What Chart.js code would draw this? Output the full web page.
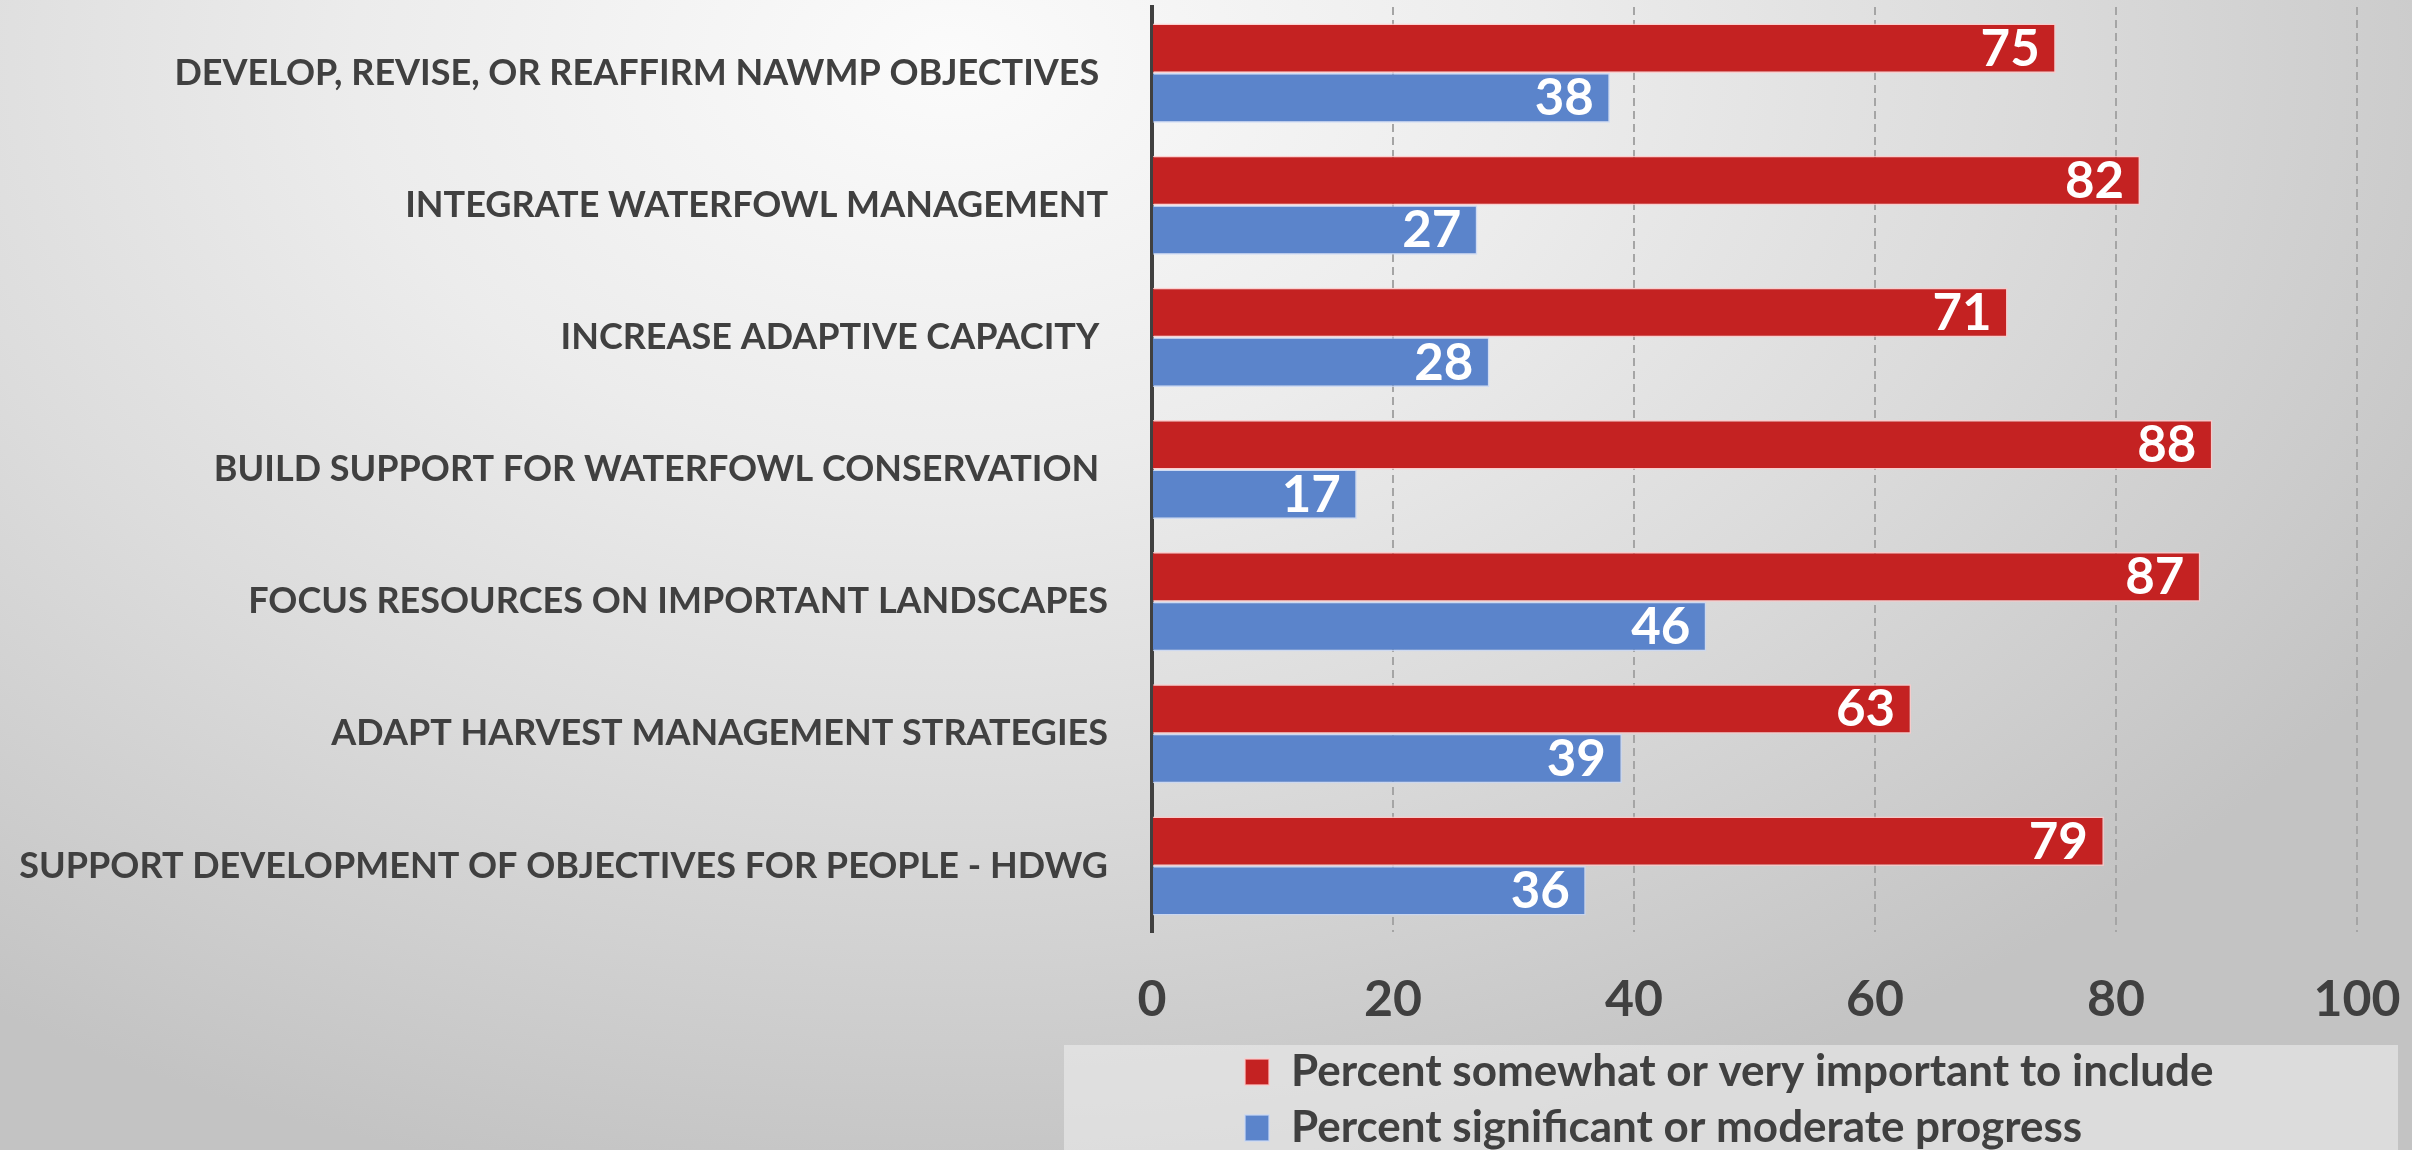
<!DOCTYPE html>
<html>
<head>
<meta charset="utf-8">
<script src="https://cdn.jsdelivr.net/npm/chart.js@4.4.1/dist/chart.umd.min.js"></script>
<style>
    html, body {
        margin: 0;
        padding: 0;
    }
    body {
        width: 2412px;
        height: 1150px;
        overflow: hidden;
        background: radial-gradient(ellipse 1700px 1150px at 950px 60px, #fbfbfb 0%, #ececec 35%, #dcdcdc 62%, #cdcdcd 85%, #c3c3c3 100%);
    }
    #chart-wrap {
        position: relative;
        width: 2412px;
        height: 1150px;
    }
</style>
</head>
<body>
<div id="chart-wrap">
    <canvas id="priority-chart"></canvas>
</div>
<script>
// Chart data
const categories = [
    'DEVELOP, REVISE, OR REAFFIRM NAWMP OBJECTIVES ',
    'INTEGRATE WATERFOWL MANAGEMENT',
    'INCREASE ADAPTIVE CAPACITY ',
    'BUILD SUPPORT FOR WATERFOWL CONSERVATION ',
    'FOCUS RESOURCES ON IMPORTANT LANDSCAPES',
    'ADAPT HARVEST MANAGEMENT STRATEGIES',
    'SUPPORT DEVELOPMENT OF OBJECTIVES FOR PEOPLE - HDWG'
];
const importantValues = [75, 82, 71, 88, 87, 63, 79];
const progressValues = [38, 27, 28, 17, 46, 39, 36];
const seriesNames = [
    'Percent somewhat or very important to include',
    'Percent significant or moderate progress'
];
const xTicks = [0, 20, 40, 60, 80, 100];

const textColor = '#404040';
const fontFamily = 'Lato, "Open Sans", sans-serif';

// white numbers at the end of each bar
const barValueLabels = {
    id: 'barValueLabels',
    afterDatasetsDraw(chart) {
        const ctx = chart.ctx;
        ctx.save();
        ctx.font = 'bold 51px ' + fontFamily;
        ctx.fillStyle = '#ffffff';
        ctx.textAlign = 'right';
        ctx.textBaseline = 'middle';
        chart.data.datasets.forEach((ds, i) => {
            const meta = chart.getDatasetMeta(i);
            meta.data.forEach((bar, j) => {
                ctx.fillText(String(ds.data[j]), bar.x - 16, bar.y + 1);
            });
        });
        ctx.restore();
    }
};

// lighter panel behind the legend, legend shifted right
const legendPanel = {
    id: 'legendPanel',
    afterLayout(chart) {
        chart.legend.left += 81;
        chart.legend.right += 81;
    },
    beforeDraw(chart) {
        const ctx = chart.ctx;
        const lg = chart.legend;
        ctx.save();
        ctx.fillStyle = 'rgba(240, 240, 240, 0.55)';
        ctx.fillRect(1064, lg.top + 7, chart.width - 14 - 1064, chart.height);
        ctx.restore();
    }
};

const ctx = document.getElementById('priority-chart').getContext('2d');
new Chart(ctx, {
    type: 'bar',
    data: {
        labels: categories,
        datasets: [{
            label: seriesNames[0],
            data: importantValues,
            backgroundColor: '#c42222',
            borderColor: 'rgba(255, 200, 200, 0.8)',
            borderWidth: 1.5,
            barPercentage: 1,
            categoryPercentage: 0.75
        }, {
            label: seriesNames[1],
            data: progressValues,
            backgroundColor: '#5b84cb',
            borderColor: 'rgba(200, 215, 245, 0.8)',
            borderWidth: 1.5,
            barPercentage: 1,
            categoryPercentage: 0.75
        }]
    },
    options: {
        indexAxis: 'y',
        responsive: true,
        maintainAspectRatio: false,
        animation: false,
        layout: {
            padding: { top: 7, right: 0, bottom: -10, left: 0 }
        },
        scales: {
            x: {
                min: 0,
                max: 100,
                afterBuildTicks(scale) {
                    scale.ticks = xTicks.map(v => ({ value: v }));
                },
                afterFit(scale) {
                    scale.height = 106;
                    scale.paddingRight = 55;
                },
                grid: {
                    color: '#a5a5a5',
                    lineWidth: 2,
                    drawTicks: false
                },
                border: {
                    display: false,
                    dash: [8, 5]
                },
                ticks: {
                    color: textColor,
                    padding: 32,
                    font: { family: fontFamily, size: 50, weight: 'bold', lineHeight: 1.44 }
                }
            },
            y: {
                afterFit(scale) {
                    scale.width = 1152;
                    scale.paddingTop = 0;
                    scale.paddingBottom = 0;
                },
                grid: {
                    display: false,
                    drawTicks: false
                },
                border: {
                    color: textColor,
                    width: 4
                },
                ticks: {
                    color: textColor,
                    padding: 44,
                    font: { family: fontFamily, size: 36, weight: 'bold' }
                }
            }
        },
        plugins: {
            legend: {
                position: 'bottom',
                align: 'start',
                fullSize: false,
                labels: {
                    color: textColor,
                    boxWidth: 24,
                    boxHeight: 26,
                    padding: 12,
                    font: { family: fontFamily, size: 44, weight: 'bold' }
                }
            },
            tooltip: { enabled: false }
        }
    },
    plugins: [barValueLabels, legendPanel]
});
</script>
</body>
</html>
